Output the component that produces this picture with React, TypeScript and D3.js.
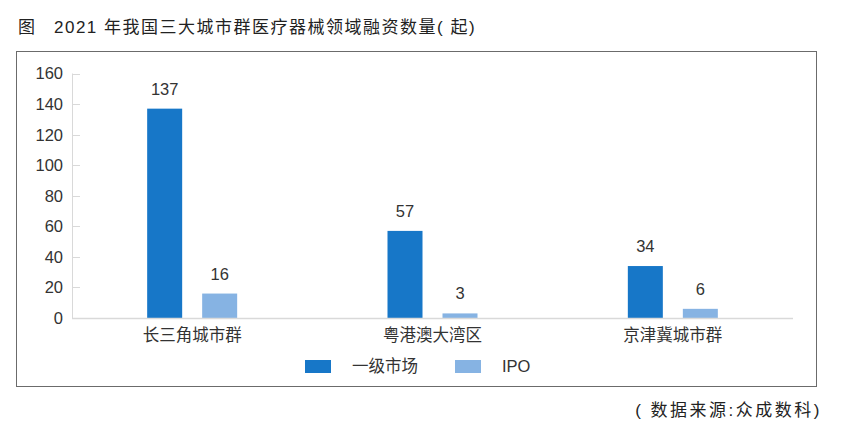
import React from 'react';
import * as d3 from 'd3';

const categories = ['长三角城市群', '粤港澳大湾区', '京津冀城市群'];
const primaryMarket = [137, 57, 34];
const ipo = [16, 3, 6];
const seriesNames = ['一级市场', 'IPO'];
const yTicks = [0, 20, 40, 60, 80, 100, 120, 140, 160];

const colors = ['#1777c8', '#86b3e3'];
const font = '"Liberation Sans", "Noto Sans CJK SC", sans-serif';

function App(): React.ReactElement {
  const width = 841;
  const height = 429;

  const x = d3.scaleBand<string>().domain(categories).range([72, 793]);
  const y = d3.scaleLinear().domain([0, 160]).range([318, 73.5]);

  const barW = 35;
  const series = [primaryMarket, ipo];
  const offsets = [-45, 10];

  return (
    <svg width={width} height={height} style={{ position: 'absolute', left: 0, top: 0 }}>
      <rect width={width} height={height} fill="#fff" />
      <text x={18} y={33} fontFamily={font} fontSize={17} fill="#222">图</text>
      <text x={54} y={33} fontFamily={font} fontSize={17} letterSpacing={1.5} fill="#222">2021 年我国三大城市群医疗器械领域融资数量( 起)</text>

      <rect x={16.5} y={51.5} width={800} height={335} fill="none" stroke="#6b6b6b" strokeWidth={1} />

      {/* y axis */}
      <line x1={72.5} x2={72.5} y1={y(160)} y2={y(0)} stroke="#d9d9d9" />
      {yTicks.map((t) => (
        <g key={t}>
          <line x1={72} x2={80} y1={Math.round(y(t)) + 0.5} y2={Math.round(y(t)) + 0.5} stroke="#d9d9d9" />
          <text x={63} y={y(t)} dy="0.36em" textAnchor="end" fontFamily={font} fontSize={16.5} fill="#333">{t}</text>
        </g>
      ))}

      {/* bars */}
      {series.map((vals, si) => vals.map((v, i) => {
        const cx = (x(categories[i]) ?? 0) + x.bandwidth() / 2;
        const bx = cx + offsets[si];
        return (
          <g key={`${si}-${i}`}>
            <rect x={bx} y={y(v)} width={barW} height={y(0) - y(v)} fill={colors[si]} />
            <text x={bx + barW / 2} y={y(v) - 14} textAnchor="middle" fontFamily={font} fontSize={16.5} fill="#333">{v}</text>
          </g>
        );
      }))}

      {/* x baseline */}
      <line x1={72} x2={793} y1={318.5} y2={318.5} stroke="#d9d9d9" strokeWidth={1.5} />
      {categories.map((c) => (
        <text key={c} x={(x(c) ?? 0) + x.bandwidth() / 2} y={341} textAnchor="middle" fontFamily={font} fontSize={16.5} fill="#333">{c}</text>
      ))}

      {/* legend */}
      {seriesNames.map((n, i) => (
        <g key={n} transform={`translate(${305 + i * 150}, 360)`}>
          <rect x={0} y={0} width={26} height={13} fill={colors[i]} />
          <text x={47} y={12} fontFamily={font} fontSize={16.5} fill="#333">{n}</text>
        </g>
      ))}

      <text x={822} y={416} textAnchor="end" fontFamily={font} fontSize={17} letterSpacing={2.5} fill="#222">( 数据来源:众成数科)</text>
    </svg>
  );
}

export default App;
